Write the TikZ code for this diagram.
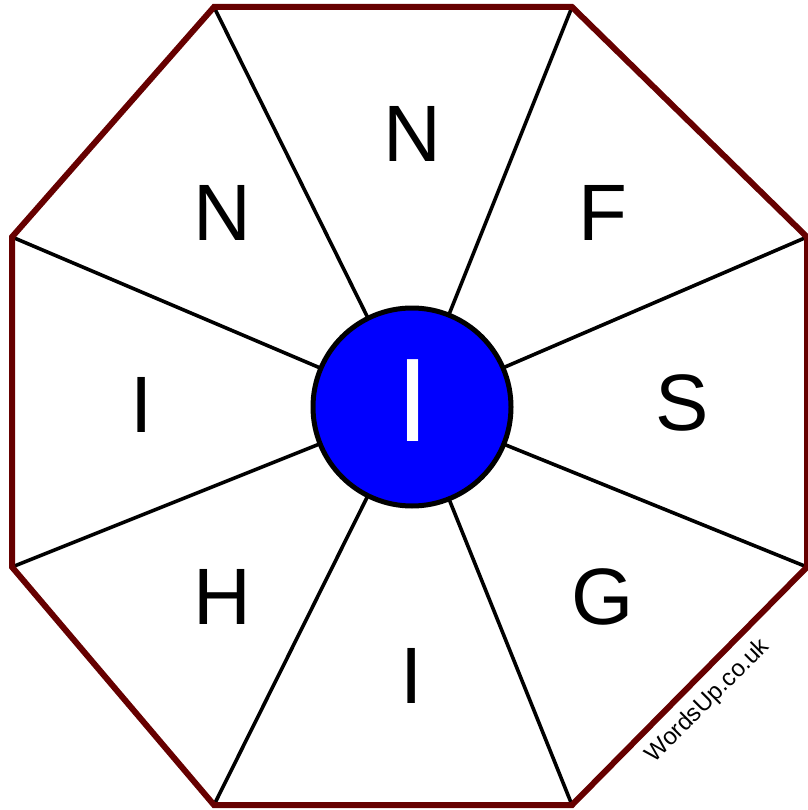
\documentclass[tikz,border=0pt]{standalone}
\usepackage{fontspec}
\setmainfont{Liberation Sans}
\definecolor{octred}{HTML}{660000}
\definecolor{hubblue}{HTML}{0000FF}
\begin{document}
\begin{tikzpicture}[x=1pt,y=-1pt,
  octline/.style={draw=octred,line width=6pt,line join=miter},
  spoke/.style={draw=black,line width=3.6pt},
  hub/.style={circle,draw=black,fill=hubblue,line width=5pt,minimum size=198pt,inner sep=0pt},
  letter/.style={font=\fontsize{80}{80}\selectfont,inner sep=0pt}]
\useasboundingbox (0,0) rectangle (807,810);
\coordinate (v1) at (214,7);
\coordinate (v2) at (572,7);
\coordinate (v3) at (807,237);
\coordinate (v4) at (807,567);
\coordinate (v5) at (572,805);
\coordinate (v6) at (214,805);
\coordinate (v7) at (12,567);
\coordinate (v8) at (12,237);
\coordinate (c) at (412,407);
\foreach \v in {v1,v2,v3,v4,v5,v6,v7,v8} \draw[spoke] (\v) -- (c);
\draw[octline] (v1) -- (v2) -- (v3) -- (v4) -- (v5) -- (v6) -- (v7) -- (v8) -- cycle;
\node[hub] (h) at (c) {};
\node[font=\fontsize{119}{119}\selectfont,text=white,inner sep=0pt] (hl) at (413,400.5) {I};
\node[letter] (l1) at (412,133.5) {N};
\node[letter] (l2) at (603,213) {F};
\node[letter] (l3) at (682,403) {S};
\node[letter] (l4) at (603,597) {G};
\node[letter] (l5) at (412,676) {I};
\node[letter] (l6) at (222,597) {H};
\node[letter] (l7) at (142,405) {I};
\node[letter] (l8) at (222,213) {N};
\node[font=\fontsize{24}{24}\selectfont,rotate=45,inner sep=0pt] (wm) at (708,701) {WordsUp.co.uk};
\end{tikzpicture}
\end{document}
